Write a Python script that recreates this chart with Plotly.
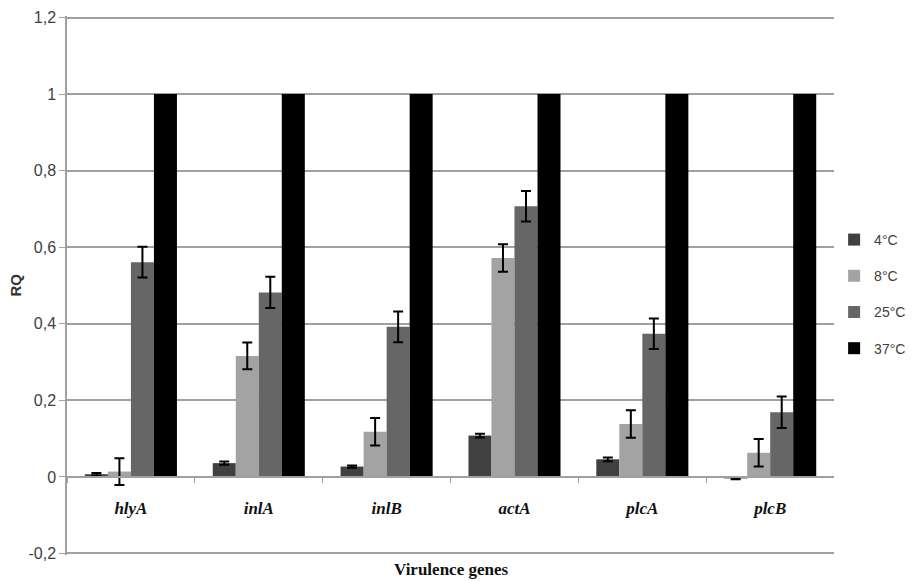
import plotly.graph_objects as go

genes = ["hlyA", "inlA", "inlB", "actA", "plcA", "plcB"]
series_names = ["4°C", "8°C", "25°C", "37°C"]
vals_4 = [0.007, 0.036, 0.027, 0.108, 0.046, -0.004]
err_4 = [0.003, 0.004, 0.003, 0.005, 0.005, 0.002]
vals_8 = [0.014, 0.316, 0.118, 0.572, 0.138, 0.063]
err_8 = [0.035, 0.035, 0.036, 0.036, 0.036, 0.036]
vals_25 = [0.561, 0.482, 0.392, 0.707, 0.374, 0.169]
err_25 = [0.04, 0.041, 0.04, 0.04, 0.04, 0.041]
vals_37 = [1, 1, 1, 1, 1, 1]
err_37 = [0, 0, 0, 0, 0, 0]
colors = ["#404040", "#a3a3a3", "#666666", "#000000"]
y_tickvals = [-0.2, 0, 0.2, 0.4, 0.6, 0.8, 1, 1.2]
y_ticktext = ["-0,2", "0", "0,2", "0,4", "0,6", "0,8", "1", "1,2"]

all_vals = [vals_4, vals_8, vals_25, vals_37]
all_errs = [err_4, err_8, err_25, err_37]

cat_labels = [f"<b><i>{g}</i></b>" for g in genes]

Y_LO, Y_HI = -0.204, 1.204

fig = go.Figure()
for name, v, e, c in zip(series_names, all_vals, all_errs, colors):
    fig.add_trace(go.Bar(
        x=cat_labels, y=v, name=name, marker_color=c, marker_line_width=0,
        legendgroup=name,
        error_y=dict(type="data", array=e, visible=any(x > 0 for x in e),
                     color="black", thickness=2, width=5),
    ))

fig.update_layout(
    width=914, height=581,
    margin=dict(l=67, r=79, t=15.5, b=25.5),
    paper_bgcolor="white", plot_bgcolor="white",
    barmode="group", bargap=0.28, bargroupgap=0,
    font=dict(family="Liberation Sans, Arial, sans-serif", size=12, color="#404040"),
    legend=dict(xref="container", yref="container", x=0.9126, y=0.494,
                xanchor="left", yanchor="middle",
                font=dict(size=14, color="#404040", family="Liberation Sans, Arial"),
                tracegroupgap=15, itemwidth=30),
    xaxis=dict(
        anchor="free", position=(0 - Y_LO) / (Y_HI - Y_LO), automargin=False,
        showline=True, linecolor="#a0a0a0", linewidth=1.5,
        ticks="outside", tickson="boundaries", ticklen=5, tickcolor="#a0a0a0",
        tickfont=dict(family="Liberation Serif, Times New Roman, serif", size=17, color="#111111"),
        ticklabelstandoff=16,
        showgrid=False, zeroline=False,
    ),
    yaxis=dict(
        range=[Y_LO, Y_HI], tickvals=y_tickvals, ticktext=y_ticktext, automargin=False,
        showline=True, linecolor="#a0a0a0", linewidth=1.5,
        ticks="outside", ticklen=6, tickcolor="#a0a0a0",
        showgrid=True, gridcolor="#a0a0a0", gridwidth=1.5,
        zeroline=False,
        tickfont=dict(size=16, color="#404040", family="Liberation Sans, Arial"),
    ),
    annotations=[
        dict(text="<b>RQ</b>", xref="paper", yref="paper", x=-0.0677, y=0.5,
             xanchor="center", yanchor="middle",
             textangle=-90, showarrow=False,
             font=dict(size=15, color="#333333", family="Liberation Sans, Arial")),
        dict(text="<b>Virulence genes</b>", xref="paper", yref="paper", x=0.5, y=-0.027,
             yanchor="middle", showarrow=False,
             font=dict(family="Liberation Serif, Times New Roman, serif", size=17, color="#111111")),
    ],
)

fig.write_html("out.html", config={"displayModeBar": False},
               post_script="document.body.style.margin='0';document.body.style.overflow='hidden';")
